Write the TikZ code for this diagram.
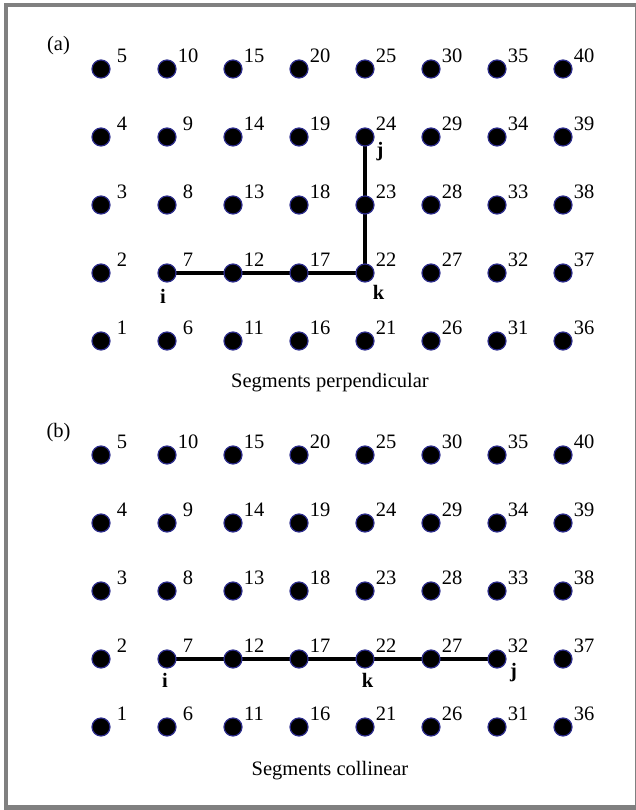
\documentclass[tikz,border=0pt]{standalone}
\usepackage{fontspec}
\setmainfont{Liberation Serif}
\pgfdeclarelayer{background}
\pgfsetlayers{background,main}
\definecolor{framegray}{RGB}{128,128,128}
\definecolor{dotrim}{RGB}{45,45,140}
\tikzset{
  dotnode/.style={circle, fill=black, draw=dotrim, line width=1.2pt, minimum size=18pt, inner sep=0pt},
  numlbl/.style={inner sep=0pt, font=\fontsize{20.5}{24}\selectfont},
  letlbl/.style={inner sep=0pt, anchor=base, font=\fontsize{20.5}{24}\selectfont\bfseries},
  caption/.style={inner sep=0pt, anchor=base, font=\fontsize{20.5}{24}\selectfont},
  seg/.style={line width=4pt, black}
}
\begin{document}
\begin{tikzpicture}[x=1pt, y=-1pt]
\useasboundingbox (0,0) rectangle (635,810);
\draw[framegray, line width=4.5pt] (6,5) rectangle (637,807.5);
% grids
\foreach \p/\yo in {a/0, b/386} {
  \foreach \c in {0,...,7} {
    \foreach \r in {0,...,4} {
      \pgfmathtruncatemacro{\n}{5*\c+\r+1}
      \node[dotnode] (\p-\n) at ({101+66*\c}, {\yo+69+68*(4-\r)}) {};
      \node[numlbl] (\p-\n-lbl) at ([shift={(21,-13)}]\p-\n.center) {\n};
    }
  }
}
\begin{pgfonlayer}{background}
\draw[seg] (a-7.center) -- (a-12.center) -- (a-17.center) -- (a-22.center) -- (a-23.center) -- (a-24.center);
\draw[seg] (b-7.center) -- (b-12.center) -- (b-17.center) -- (b-22.center) -- (b-27.center) -- (b-32.center);
\end{pgfonlayer}
% point labels
\node[letlbl] (a-i) at (163,303) {i};
\node[letlbl] (a-k) at (378.5,299) {k};
\node[letlbl] (a-j) at (380,157) {j};
\node[letlbl] (b-i) at (165,687) {i};
\node[letlbl] (b-k) at (367.5,687) {k};
\node[letlbl] (b-j) at (513.5,677) {j};
% captions
\node[caption] (cap-a) at (58.5,51) {(a)};
\node[caption] (cap-b) at (58.5,437) {(b)};
\node[caption] (title-a) at (330,387) {Segments perpendicular};
\node[caption] (title-b) at (330,775) {Segments collinear};
\end{tikzpicture}
\end{document}
